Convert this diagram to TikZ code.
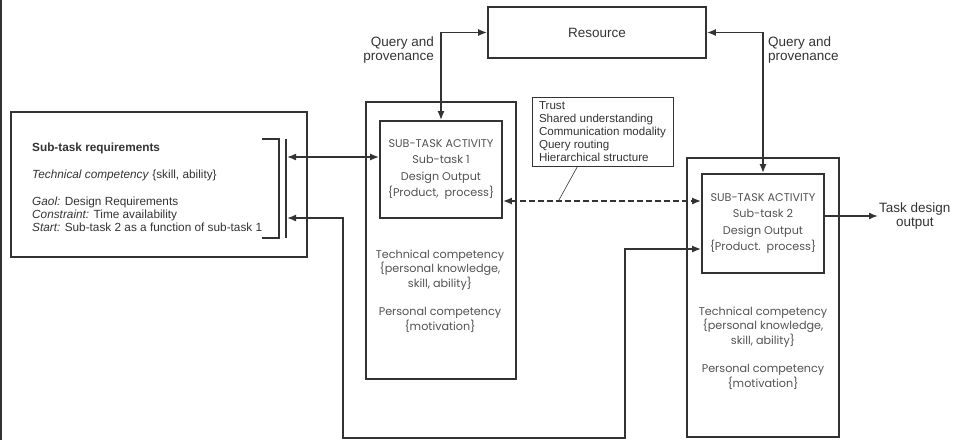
\documentclass[tikz,border=0pt]{standalone}
\usepackage{fontspec}
\setmainfont{Liberation Sans}
\newfontfamily\gothic{Poppins}
\usetikzlibrary{arrows.meta,calc,positioning}
\tikzset{>={Latex[length=9pt,width=7pt]}}
\definecolor{ink}{gray}{0.2}
\definecolor{soft}{gray}{0.32}
\tikzset{
  box/.style={draw=ink, line width=1.7pt, inner sep=0pt},
  thinbox/.style={draw=ink, line width=0.8pt, inner sep=0pt},
  link/.style={draw=ink, line width=1.6pt},
  boxtext/.style={font=\gothic\fontsize{11.2}{16.3}\selectfont, text=soft, align=center},
  comptext/.style={font=\gothic\fontsize{11.2}{14.6}\selectfont, text=soft, align=center},
  reqtext/.style={font=\fontsize{11.8}{13.2}\selectfont, text=ink, align=left, inner sep=0pt},
  notetext/.style={font=\fontsize{11.6}{13}\selectfont, text=ink, align=left},
  qlabel/.style={font=\fontsize{13.5}{14.5}\selectfont, text=ink, inner sep=1pt}
}

\begin{document}
\begin{tikzpicture}[x=1pt,y=-1pt]
      \useasboundingbox (0,0) rectangle (953,440);
      \draw[ink, line width=1.5pt] (1,0) -- (1,440);
      % sub-task requirements
      \node[box, minimum width=296pt, minimum height=145pt] (req) at (159,184.5) {};
      \node[reqtext, anchor=north west] (reqtxt) at (32,143) {\textbf{Sub-task requirements}\\[13.5pt]
        \textit{Technical competency} \{skill, ability\}\\[13.5pt]
        \textit{Gaol:} Design Requirements\\
        \textit{Constraint:} Time availability\\
        \textit{Start:} Sub-task 2 as a function of sub-task 1};
      \coordinate (bartop) at (286,139);
      \coordinate (barbot) at (286,238);
      \draw[ink, line width=1.2pt] ([xshift=-24pt]bartop) -| ([xshift=-7pt]barbot) -- ([xshift=-24pt]barbot);
      \draw[ink, line width=1.2pt] (bartop) -- (barbot);
      \coordinate (bar1) at (287,157);
      \coordinate (bar2) at (287,218);
      %
      \node[box, minimum width=218pt, minimum height=51pt, font=\fontsize{13.5}{14.5}\selectfont, text=ink] (res) at (597,32.5) {Resource};
      % sub-task 1
      \node[box, minimum width=150pt, minimum height=277pt] (act1) at (441,240.5) {};
      \node[box, boxtext, minimum width=122pt, minimum height=97pt] (act1in) at (441,169.5)
        {SUB-TASK ACTIVITY\\Sub-task 1\\Design Output\\\{Product,~~process\}};
      \node[comptext] (comp1) at (440,291) {Technical competency\\\{personal knowledge,\\skill, ability\}\\[13.5pt]
        Personal competency\\\{motivation\}};
      % sub-task 2
      \node[box, minimum width=152pt, minimum height=279pt] (act2) at (763,297.5) {};
      \node[box, boxtext, minimum width=122pt, minimum height=99pt] (act2in) at (763,223.5)
        {SUB-TASK ACTIVITY\\Sub-task 2\\Design Output\\\{Product.~~process\}};
      \node[comptext] (comp2) at (763,348) {Technical competency\\\{personal knowledge,\\skill, ability\}\\[13.5pt]
        Personal competency\\\{motivation\}};
      %
      \node[thinbox, notetext, minimum width=141pt, minimum height=69pt] (note) at (602.5,131.5)
        {Trust\\Shared understanding\\Communication modality\\Query routing\\Hierarchical structure};
      \node[qlabel, anchor=east, align=right] (q1) at (435,50) {Query and\\provenance};
      \node[qlabel, anchor=west, align=left] (q2) at (767,50) {Query and\\provenance};
      \node[qlabel, anchor=west, align=center] (out) at (878,216) {Task design\\output};
      % connectors
      \draw[link,<->] (act1in.north) |- (res.west);
      \draw[link,<->] (res.east) -| (act2in.north);
      \draw[link,<->] (bar1) -- (bar1 -| act1in.west);
      \coordinate (loopL) at (343,438);
      \coordinate (loopR) at (625,438);
      \draw[link,<->] (bar2) -| (loopL) -- (loopR) |- ([yshift=-25.5pt]act2in.west);
      \coordinate (d1) at ([yshift=-31.5pt]act1in.east);
      \coordinate (d2) at (d1 -| act2in.west);
      \draw[link,<->, dash pattern=on 6pt off 3pt] (d1) -- (d2);
      \draw[ink, line width=0.6pt] ([xshift=-25pt]note.south) -- ($(d1)!0.28!(d2)$);
      \draw[link,->] (out.west -| act2in.east) -- (out.west);
    \end{tikzpicture}
\end{document}
